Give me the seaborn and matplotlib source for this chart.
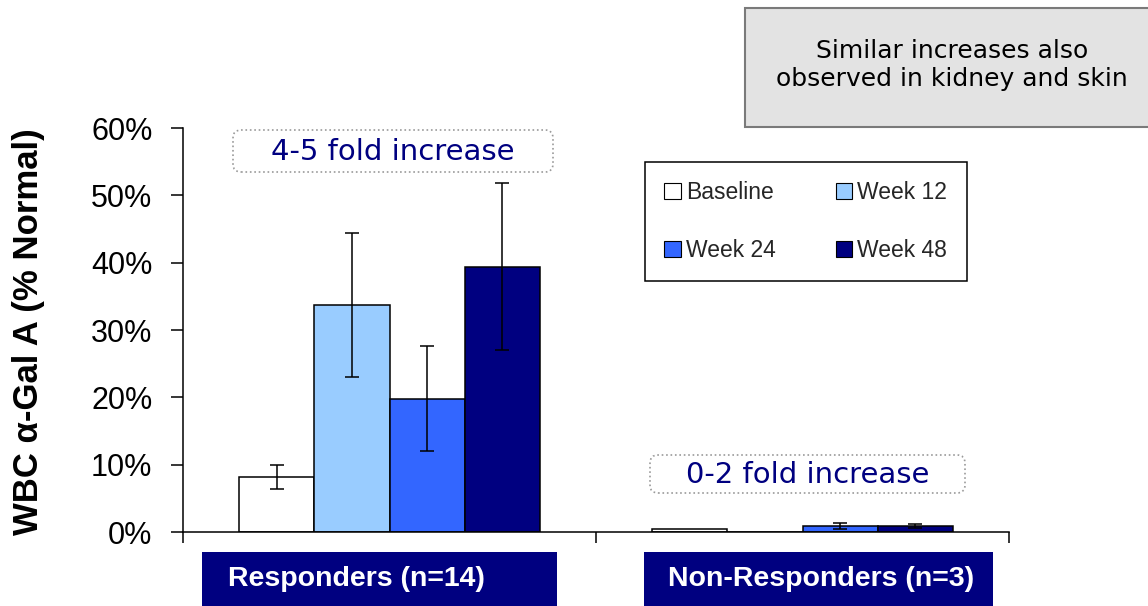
import numpy as np
import pandas as pd
import matplotlib
matplotlib.use("Agg")
import matplotlib.pyplot as plt
import seaborn as sns
from matplotlib.patches import FancyBboxPatch, Rectangle
from matplotlib.ticker import PercentFormatter

# data
groups = ["Responders (n=14)", "Non-Responders (n=3)"]
timepoints = ["Baseline", "Week 12", "Week 24", "Week 48"]
responders = [0.082, 0.337, 0.198, 0.394]
responders_err = [0.018, 0.107, 0.078, 0.124]
non_responders = [0.0045, 0.0, 0.009, 0.009]
non_responders_err = [0.0, 0.0, 0.004, 0.003]
colors = ["#ffffff", "#99ccff", "#3366ff", "#000080"]
y_ticks = [0.0, 0.1, 0.2, 0.3, 0.4, 0.5, 0.6]

df = pd.DataFrame({
    "group": np.repeat(groups, len(timepoints)),
    "timepoint": timepoints * len(groups),
    "value": responders + non_responders,
})

sns.set_style("white")
plt.rcParams["font.family"] = ["Liberation Sans", "DejaVu Sans"]

W, H = 1148, 606
fig = plt.figure(figsize=(W / 100, H / 100), dpi=100)
ax = fig.add_axes([183 / W, 74 / H, 826 / W, 404 / H])

sns.barplot(
    data=df, x="group", y="value", hue="timepoint",
    order=groups, hue_order=timepoints, palette=colors, saturation=1,
    edgecolor="black", linewidth=1.1, width=0.727, gap=0,
    errorbar=None, ax=ax,
)

# error bars on top of the bars
bar_containers = list(ax.containers)
for i, cont in enumerate(bar_containers):
    errs = [responders_err[i], non_responders_err[i]]
    for bar, e in zip(cont, errs):
        if e <= 0:
            continue
        ax.errorbar(bar.get_x() + bar.get_width() / 2, bar.get_height(), yerr=e,
                    fmt="none", ecolor="black", elinewidth=1.1, capsize=5, capthick=1.1)

# axes styling
ax.set_xlim(-0.5, 1.5)
ax.set_ylim(0, 0.6)
ax.set_yticks(y_ticks)
ax.yaxis.set_major_formatter(PercentFormatter(1, decimals=0))
ax.set_xticks([-0.5, 0.5, 1.5])
ax.set_xticklabels([])
ax.set_xlabel("")
ax.tick_params(axis="x", bottom=True, length=8, width=1.1, direction="out", color="black")
ax.tick_params(axis="y", left=True, length=8.5, width=1.1, direction="out", color="black",
               labelsize=22, pad=13.5, labelcolor="black")
sns.despine(ax=ax)
for s in ["left", "bottom"]:
    ax.spines[s].set_color("black")
    ax.spines[s].set_linewidth(1.1)

ax.set_ylabel("WBC α-Gal A (% Normal)", fontsize=25, fontweight="bold", color="black")
ax.yaxis.set_label_coords(-0.167, 0.495)

# legend, filled row by row like the reference
handles, labels = ax.get_legend_handles_labels()
for h in handles:
    h.set_edgecolor("black")
    h.set_linewidth(0.8)
order = [0, 2, 1, 3]
leg = ax.legend([handles[k] for k in order], [labels[k] for k in order], ncol=2, loc="upper left",
                bbox_to_anchor=(645 / W, 1 - 162 / H), bbox_transform=fig.transFigure,
                frameon=True, fancybox=False, edgecolor="black", framealpha=1,
                fontsize=16.5, handlelength=0.7, handleheight=0.7, handletextpad=0.25,
                columnspacing=2.6, labelspacing=1.5, borderpad=0.85, borderaxespad=0)
leg.get_frame().set_linewidth(1.1)


def fig_box(x0, y0, x1, y1):
    return (x0 / W, 1 - y1 / H, (x1 - x0) / W, (y1 - y0) / H)


# "fold increase" callouts
for (x0, y0, x1, y1), txt in [((233, 130, 553, 172), "4-5 fold increase"),
                              ((650, 455, 965, 493), "0-2 fold increase")]:
    bx, by, bw, bh = fig_box(x0, y0, x1, y1)
    fig.add_artist(FancyBboxPatch((bx, by), bw, bh, transform=fig.transFigure,
                                  boxstyle="round,pad=0,rounding_size=0.007",
                                  mutation_aspect=W / H, facecolor="white",
                                  edgecolor="#9a9a9a", linestyle=":", linewidth=1.2))
    fig.text((x0 + x1) / 2 / W, 1 - ((y0 + y1) / 2 + 1) / H, txt, ha="center", va="center",
             color="#000080", fontsize=21, family="DejaVu Sans")

# grey note box
bx, by, bw, bh = fig_box(745, 8, 1152, 127)
fig.add_artist(Rectangle((bx, by), bw, bh, transform=fig.transFigure,
                         facecolor="#e3e3e3", edgecolor="#7a7a7a", linewidth=1.5))
fig.text(952 / W, 1 - 65 / H, "Similar increases also\nobserved in kidney and skin",
         ha="center", va="center", fontsize=18, family="DejaVu Sans",
         color="black", linespacing=1.2)

# category label boxes
for (x0, x1, tx), name in zip([(202, 557, 228), (644, 993, 668)], groups):
    bx, by, bw, bh = fig_box(x0, 552, x1, 610)
    fig.add_artist(Rectangle((bx, by), bw, bh, transform=fig.transFigure,
                             facecolor="#000080", edgecolor="none"))
    fig.text(tx / W, 1 - 579 / H, name, ha="left", va="center", color="white",
             fontsize=20.5, fontweight="bold")

fig.savefig("out.png", dpi=100)
